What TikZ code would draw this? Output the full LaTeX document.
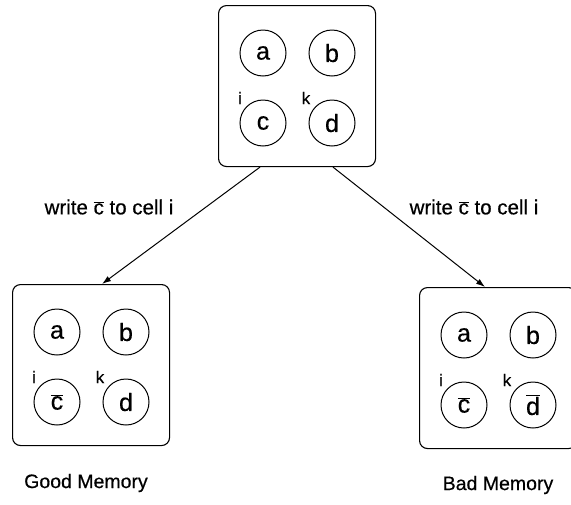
\documentclass[tikz,border=0pt]{standalone}
\usepackage{fontspec}
\setmainfont{Liberation Sans}[FakeBold=0.5]
\usetikzlibrary{arrows.meta,calc}

% complemented cell values
\newcommand\negval[1]{\ensuremath{\overline{\mbox{#1}}}}

\tikzset{
  membox/.style={draw, line width=1.1pt, rounded corners=8pt,
    minimum width=157pt, minimum height=161pt, inner sep=0pt, anchor=north west},
  cell/.style={draw, circle, line width=1pt, minimum size=46pt, inner sep=0pt,
    font=\fontsize{25}{25}\selectfont},
  tag/.style={inner sep=0pt, font=\fontsize{17}{17}\selectfont},
  note/.style={inner sep=0pt, font=\fontsize{20.5}{20.5}\selectfont},
  caption/.style={inner sep=0pt, font=\fontsize{19.5}{19.5}\selectfont},
  link/.style={line width=1pt, -{Latex[length=9pt,width=6pt]}}
}

% a memory of four cells a, b, c, d; #4 and #5 are the contents of c and d
\newcommand\memory[5]{%
  \node[membox] (#1) at (#2,#3) {};
  \node[cell] (#1a) at ($(#1.north west)+(45,48)$) {a};
  \node[cell] (#1b) at ($(#1.north west)+(114,48)$) {b};
  \node[cell] (#1c) at ($(#1.north west)+(45,118)$) {#4};
  \node[cell] (#1d) at ($(#1.north west)+(114,118)$) {#5};
  \node[tag] (#1i) at ($(#1.north west)+(22,93)$) {i};
  \node[tag] (#1k) at ($(#1.north west)+(88,93)$) {k};
}

\begin{document}
\begin{tikzpicture}[x=1pt,y=-1pt]
  \clip (0,0) rectangle (571,504);

  \memory{top}{218}{5}{c}{d}
  \memory{good}{12}{284}{\negval{c}}{d}
  \memory{bad}{419}{287}{\negval{c}}{\negval{d}}

  \draw[link] ($(top.south west)+(42,0)$) -- ($(good.north west)+(90,0)$);
  \draw[link] ($(top.south west)+(115,0)$) -- ($(bad.north west)+(66,0)$);

  \node[note] (wl) at (109,207) {write \negval{c} to cell i};
  \node[note] (wr) at (474,207) {write \negval{c} to cell i};

  \node[caption] (gm) at (86,483) {Good Memory};
  \node[caption] (bm) at (498,485) {Bad Memory};
\end{tikzpicture}
\end{document}
